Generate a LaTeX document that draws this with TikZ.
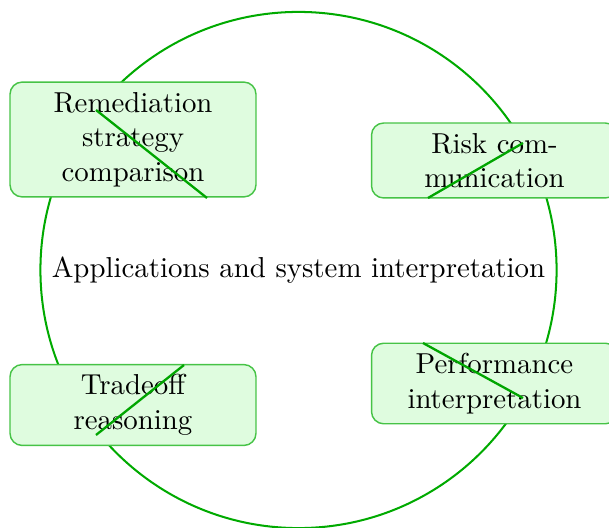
\documentclass[tikz,border=0pt]{standalone}
\begin{document}
\begin{tikzpicture}[x=0.3468pt,y=-0.3468pt,
  box/.style={draw=boxline, fill=boxfill, rounded corners=4.2pt, align=center,
    text width=75pt, minimum width=85.3pt, inner sep=3.47pt, line width=0.5pt},
  hub/.style={circle, draw=ringgreen, line width=0.7pt, minimum size=179pt, inner sep=0pt},
  cross/.style={draw=linegreen, line width=0.8pt}]
\definecolor{ringgreen}{RGB}{0,170,0}
\definecolor{linegreen}{RGB}{0,165,0}
\definecolor{boxline}{RGB}{70,195,70}
\definecolor{boxfill}{RGB}{223,252,223}
\useasboundingbox (0,0) rectangle (609,527);
\node[hub] (c) at (298.5,270) {Applications and system interpretation};
\node[box] (r) at (133,139.5) {Remediation strategy comparison};
\node[box] (k) at (494.5,160.5) {Risk communication};
\node[box] (t) at (133,405) {Tradeoff reasoning};
\node[box] (p) at (494.5,383.5) {Performance interpretation};
\coordinate (r1) at (96,110);  \coordinate (r2) at (207,198);
\coordinate (k1) at (428,198); \coordinate (k2) at (523,143);
\coordinate (t1) at (96,435);  \coordinate (t2) at (184,365);
\coordinate (p1) at (423,343); \coordinate (p2) at (523,398);
\draw[cross] (r1) -- (r2);
\draw[cross] (k1) -- (k2);
\draw[cross] (t1) -- (t2);
\draw[cross] (p1) -- (p2);
\end{tikzpicture}
\end{document}
